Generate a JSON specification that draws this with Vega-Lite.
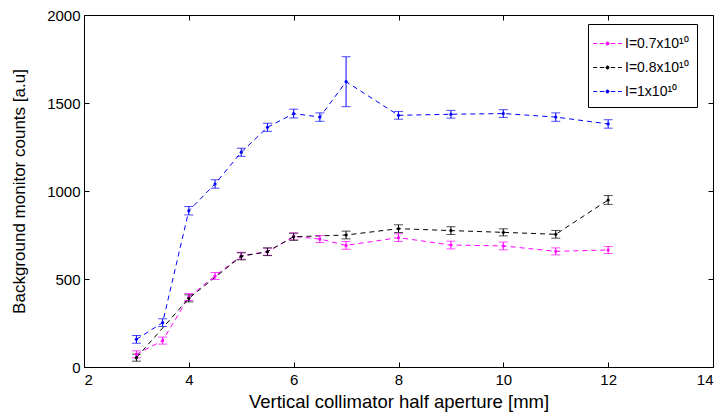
{
  "$schema": "https://vega.github.io/schema/vega-lite/v6.json",
  "width": 629,
  "height": 352,
  "autosize": {"type": "none"},
  "padding": {"left": 84, "top": 15, "right": 10, "bottom": 46},
  "background": "white",
  "config": {
    "view": {"stroke": "black", "strokeWidth": 1},
    "font": "Liberation Sans",
    "axis": {
      "grid": false,
      "domain": false,
      "offset": -5,
      "tickSize": 5,
      "tickColor": "black",
      "tickWidth": 1,
      "labelColor": "black",
      "labelFontSize": 15,
      "titleColor": "black",
      "titleFontSize": 17,
      "titleFontWeight": "normal"
    }
  },
  "data": {
    "values": [
      {"series": "I=0.7x10¹⁰", "x": 3, "y": 72, "lo": 52, "hi": 92},
      {"series": "I=0.7x10¹⁰", "x": 3.5, "y": 150, "lo": 130, "hi": 170},
      {"series": "I=0.7x10¹⁰", "x": 4, "y": 398, "lo": 378, "hi": 418},
      {"series": "I=0.7x10¹⁰", "x": 4.5, "y": 517, "lo": 497, "hi": 537},
      {"series": "I=0.7x10¹⁰", "x": 5, "y": 632, "lo": 612, "hi": 652},
      {"series": "I=0.7x10¹⁰", "x": 5.5, "y": 655, "lo": 635, "hi": 675},
      {"series": "I=0.7x10¹⁰", "x": 6, "y": 742, "lo": 722, "hi": 762},
      {"series": "I=0.7x10¹⁰", "x": 6.5, "y": 727, "lo": 707, "hi": 747},
      {"series": "I=0.7x10¹⁰", "x": 7, "y": 691, "lo": 669, "hi": 713},
      {"series": "I=0.7x10¹⁰", "x": 8, "y": 735, "lo": 713, "hi": 757},
      {"series": "I=0.7x10¹⁰", "x": 9, "y": 693, "lo": 671, "hi": 715},
      {"series": "I=0.7x10¹⁰", "x": 10, "y": 688, "lo": 666, "hi": 710},
      {"series": "I=0.7x10¹⁰", "x": 11, "y": 657, "lo": 637, "hi": 677},
      {"series": "I=0.7x10¹⁰", "x": 12, "y": 665, "lo": 645, "hi": 685},
      {"series": "I=0.8x10¹⁰", "x": 3, "y": 53, "lo": 33, "hi": 73},
      {"series": "I=0.8x10¹⁰", "x": 4, "y": 390, "lo": 370, "hi": 410},
      {"series": "I=0.8x10¹⁰", "x": 5, "y": 629, "lo": 609, "hi": 649},
      {"series": "I=0.8x10¹⁰", "x": 5.5, "y": 655, "lo": 633, "hi": 677},
      {"series": "I=0.8x10¹⁰", "x": 6, "y": 740, "lo": 720, "hi": 760},
      {"series": "I=0.8x10¹⁰", "x": 7, "y": 750, "lo": 728, "hi": 772},
      {"series": "I=0.8x10¹⁰", "x": 8, "y": 786, "lo": 764, "hi": 808},
      {"series": "I=0.8x10¹⁰", "x": 9, "y": 775, "lo": 753, "hi": 797},
      {"series": "I=0.8x10¹⁰", "x": 10, "y": 765, "lo": 745, "hi": 785},
      {"series": "I=0.8x10¹⁰", "x": 11, "y": 754, "lo": 732, "hi": 776},
      {"series": "I=0.8x10¹⁰", "x": 12, "y": 949, "lo": 924, "hi": 974},
      {"series": "I=1x10¹⁰", "x": 3, "y": 157, "lo": 135, "hi": 179},
      {"series": "I=1x10¹⁰", "x": 3.5, "y": 252, "lo": 230, "hi": 274},
      {"series": "I=1x10¹⁰", "x": 4, "y": 888, "lo": 864, "hi": 912},
      {"series": "I=1x10¹⁰", "x": 4.5, "y": 1040, "lo": 1016, "hi": 1064},
      {"series": "I=1x10¹⁰", "x": 5, "y": 1220, "lo": 1197, "hi": 1243},
      {"series": "I=1x10¹⁰", "x": 5.5, "y": 1362, "lo": 1339, "hi": 1385},
      {"series": "I=1x10¹⁰", "x": 6, "y": 1440, "lo": 1415, "hi": 1465},
      {"series": "I=1x10¹⁰", "x": 6.5, "y": 1420, "lo": 1396, "hi": 1444},
      {"series": "I=1x10¹⁰", "x": 7, "y": 1621, "lo": 1479, "hi": 1763},
      {"series": "I=1x10¹⁰", "x": 8, "y": 1430, "lo": 1408, "hi": 1452},
      {"series": "I=1x10¹⁰", "x": 9, "y": 1436, "lo": 1414, "hi": 1458},
      {"series": "I=1x10¹⁰", "x": 10, "y": 1440, "lo": 1418, "hi": 1462},
      {"series": "I=1x10¹⁰", "x": 11, "y": 1420, "lo": 1396, "hi": 1444},
      {"series": "I=1x10¹⁰", "x": 12, "y": 1381, "lo": 1357, "hi": 1405}
    ]
  },
  "encoding": {
    "color": {
      "field": "series",
      "type": "nominal",
      "scale": {"domain": ["I=0.7x10¹⁰", "I=0.8x10¹⁰", "I=1x10¹⁰"], "range": ["#ff00ff", "#000000", "#0000ff"]},
      "legend": {
        "title": null,
        "orient": "none",
        "legendX": 504,
        "legendY": 9,
        "strokeColor": "black",
        "fillColor": "white",
        "padding": 8,
        "rowPadding": 5,
        "labelFontSize": 14,
        "labelColor": "black",
        "labelOffset": 6,
        "symbolType": "M-1.3,0H-0.95M-0.7,0H-0.3M0.3,0H0.7M0.95,0H1.3M-0.14,0A0.14,0.14,0,1,1,0.14,0A0.14,0.14,0,1,1,-0.14,0Z",
        "symbolSize": 484,
        "symbolStrokeWidth": 1,
        "encode": {"symbols": {"update": {"fill": {"scale": "color", "field": "value"}}}}
      }
    }
  },
  "layer": [
    {
      "mark": {"type": "line", "strokeDash": [5, 4], "strokeWidth": 1},
      "encoding": {
        "x": {
          "field": "x",
          "type": "quantitative",
          "scale": {"domain": [2, 14], "nice": false, "zero": false},
          "axis": {"values": [2, 4, 6, 8, 10, 12, 14], "title": "Vertical collimator half aperture [mm]", "labelPadding": 5, "titlePadding": 5, "titleFontSize": 18.5}
        },
        "y": {
          "field": "y",
          "type": "quantitative",
          "scale": {"domain": [0, 2000], "nice": false},
          "axis": {"values": [0, 500, 1000, 1500, 2000], "format": "d", "title": "Background monitor counts [a.u]", "labelPadding": 4, "titlePadding": 18}
        }
      }
    },
    {
      "mark": {"type": "point", "opacity": 0},
      "encoding": {
        "x": {"field": "x", "type": "quantitative", "axis": {"orient": "top", "labels": false, "title": null, "values": [2, 4, 6, 8, 10, 12, 14]}},
        "y": {"field": "y", "type": "quantitative", "axis": {"orient": "right", "labels": false, "title": null, "values": [0, 500, 1000, 1500, 2000]}}
      }
    },
    {
      "mark": {"type": "errorbar", "ticks": {"size": 9}, "thickness": 1},
      "encoding": {
        "x": {"field": "x", "type": "quantitative", "axis": null},
        "y": {"field": "lo", "type": "quantitative", "axis": null},
        "y2": {"field": "hi"}
      }
    },
    {
      "mark": {"type": "point", "filled": true, "size": 10, "opacity": 1},
      "encoding": {
        "x": {"field": "x", "type": "quantitative", "axis": null},
        "y": {"field": "y", "type": "quantitative", "axis": null}
      }
    }
  ],
  "resolve": {"axis": {"x": "independent", "y": "independent"}}
}
